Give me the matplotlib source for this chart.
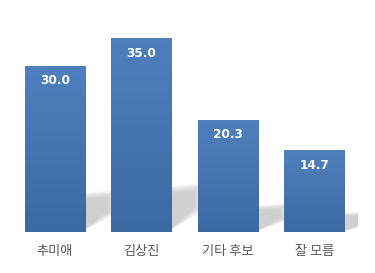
import matplotlib.pyplot as plt
import numpy as np
from matplotlib.patches import Polygon

plt.rcParams['font.family'] = ['Noto Sans CJK KR', 'DejaVu Sans']

# Data
categories = ['추미애', '김상진', '기타 후보', '잘 모름']
values = [30.0, 35.0, 20.3, 14.7]

fig = plt.figure(figsize=(3.75, 2.73), dpi=100)
ax = fig.add_axes([0.031, 0.150, 0.924, 0.808])

x = np.arange(len(categories))
bars = ax.bar(x, values, width=0.7, color='#4675b2', zorder=3)

# Vertical gradient on each bar (lighter on top)
grad = np.linspace(0, 1, 64).reshape(-1, 1)
cmap = plt.matplotlib.colors.LinearSegmentedColormap.from_list(
    'bar', ['#3d69a3', '#4f7fbd'])
for b in bars:
    x0, w, h = b.get_x(), b.get_width(), b.get_height()
    ax.imshow(grad, extent=(x0, x0 + w, 0, h), origin='lower', cmap=cmap,
              aspect='auto', zorder=4)

# Soft gray shadow behind each bar, falling to the right
# (a stack of shrinking translucent polygons fakes the blur)
for b in bars:
    xr, h = b.get_x() + b.get_width(), b.get_height()
    for k in range(6):
        t = k / 6
        dx = 0.36 - 0.12 * t
        top_l = (0.235 - 0.04 * t) * h
        top_r = (0.255 - 0.05 * t) * h
        bot_r = (0.11 + 0.02 * t) * h
        pts = [(xr - 0.05, 0), (xr + dx, bot_r), (xr + dx, top_r),
               (xr - 0.05, top_l)]
        ax.add_patch(Polygon(pts, closed=True, facecolor='#9a9a9a',
                             edgecolor='none', alpha=0.09, zorder=2))

# Value labels inside bars
for b, v in zip(bars, values):
    ax.text(b.get_x() + b.get_width() / 2, v - 2.6, f'{v:.1f}',
            ha='center', va='center', color='white', fontsize=8.7,
            fontweight='bold', family='DejaVu Sans', zorder=5)

ax.set_xticks(x)
ax.set_xticklabels(categories, fontsize=9.5, color='#595959')
ax.tick_params(axis='x', length=0, pad=9)
ax.set_yticks([])
for s in ax.spines.values():
    s.set_visible(False)

ax.set_xlim(-0.5, len(categories) - 0.5)
ax.set_ylim(0, 40)

fig.savefig('out.png', dpi=100)
